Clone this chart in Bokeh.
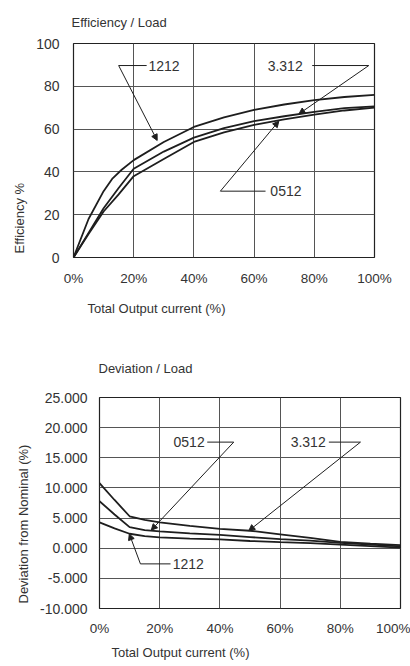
from bokeh.plotting import figure
from bokeh.models import Range1d, FixedTicker, Label, Arrow, NormalHead, Title
from bokeh.layouts import column
from bokeh.embed import file_html
from bokeh.resources import INLINE

# ---------------- data ----------------
# Efficiency / Load
eff_x_1212 = [0, 5, 10, 13, 16, 20, 30, 40, 50, 60, 70, 80, 90, 100]
eff_1212 = [0, 18, 31, 37, 41, 45.5, 54, 61, 65.5, 69, 71.5, 73.5, 75, 76]
eff_x = [0, 5, 10, 15, 20, 30, 40, 50, 60, 70, 80, 90, 100]
eff_3312 = [0, 11.5, 23, 32.5, 41.5, 49.5, 56, 60.5, 63.7, 66, 68, 69.8, 70.6]
eff_0512 = [0, 11, 21.5, 29.5, 38, 46, 54, 58.5, 62, 64.5, 66.8, 68.7, 70]

# Deviation / Load
dev_x = [0, 5, 10, 15, 20, 30, 40, 50, 60, 70, 80, 90, 100]
dev_3312 = [10.8, 8.0, 5.3, 4.7, 4.3, 3.7, 3.2, 2.9, 2.3, 1.7, 1.05, 0.75, 0.5]
dev_0512 = [7.8, 5.6, 3.5, 3.0, 2.8, 2.45, 2.2, 1.85, 1.5, 1.25, 0.9, 0.6, 0.3]
dev_1212 = [4.3, 3.3, 2.4, 2.0, 1.8, 1.6, 1.45, 1.2, 1.0, 0.85, 0.6, 0.35, 0.1]

x_ticks = [0, 20, 40, 60, 80, 100]
x_tick_labels = ["0%", "20%", "40%", "60%", "80%", "100%"]
eff_ticks = [0, 20, 40, 60, 80, 100]
eff_tick_labels = ["0", "20", "40", "60", "80", "100"]
dev_ticks = [-10, -5, 0, 5, 10, 15, 20, 25]
dev_tick_labels = ["-10.000", "-5.000", "0.000", "5.000", "10.000", "15.000", "20.000", "25.000"]

# callouts: label, text x, y, leader x0, leader x1, elbow x, tip x, tip y
eff_callouts = [
    ("1212", 24.9, 89.7, 15.0, 24.3, 15.0, 27.8, 54.7),
    ("3.312", 64.5, 89.7, 79.3, 98.1, 98.1, 74.9, 67.1),
    ("0512", 65.4, 31.0, 48.8, 63.8, 48.8, 68.2, 63.7),
]
dev_callouts = [
    ("0512", 24.6, 17.6, 35.8, 44.6, 44.6, 17.2, 3.0),
    ("3.312", 63.5, 17.6, 76.2, 86.7, 86.7, 49.6, 2.9),
    ("1212", 24.3, -2.6, 13.6, 23.6, 13.6, 9.9, 2.37),
]

FONT = "Liberation Sans"
TXT = "#333333"
LINE = "#1e1e1e"


def style(p, xt, xl, yt, yl, xstand, ystand):
    p.xaxis.ticker = FixedTicker(ticks=xt)
    p.yaxis.ticker = FixedTicker(ticks=yt)
    p.xaxis.major_label_overrides = {t: l for t, l in zip(xt, xl)}
    p.yaxis.major_label_overrides = {t: l for t, l in zip(yt, yl)}
    for ax in (p.xaxis[0], p.yaxis[0]):
        ax.axis_line_color = None
        ax.major_tick_line_color = None
        ax.minor_tick_line_color = None
        ax.major_tick_in = 0
        ax.major_tick_out = 0
        ax.major_label_text_font = FONT
        ax.major_label_text_color = TXT
        ax.major_label_text_font_size = "14px"
    p.xaxis.major_label_standoff = xstand
    p.yaxis.major_label_standoff = ystand
    p.xaxis.major_label_text_font_size = "13.5px"
    p.xgrid.grid_line_color = "#555555"
    p.ygrid.grid_line_color = "#555555"
    p.xgrid.grid_line_width = 1
    p.ygrid.grid_line_width = 1
    p.outline_line_color = "#222222"
    p.outline_line_width = 1.2
    p.background_fill_color = "white"
    p.border_fill_color = "white"


def callouts(p, items):
    for lab, tx, ty, lx0, lx1, ex, ax_, ay in items:
        p.line([lx0, lx1], [ty, ty], line_color=LINE, line_width=1)
        p.add_layout(Arrow(end=NormalHead(size=6, fill_color=LINE, line_color=LINE),
                           x_start=ex, y_start=ty, x_end=ax_, y_end=ay,
                           line_color=LINE, line_width=1))
        p.add_layout(Label(x=tx, y=ty, text=lab, text_font=FONT, text_font_size="14px",
                           text_color=TXT, text_align="left", text_baseline="middle"))


def ttl(p, s, side, offset, standoff, valign="bottom"):
    p.add_layout(Title(text=s, align="left", offset=offset, standoff=standoff,
                       vertical_align=valign,
                       text_font=FONT, text_font_size="13px", text_color=TXT,
                       text_font_style="normal"), side)


# ---------------- top chart ----------------
p1 = figure(width=410, height=325, output_backend="svg", toolbar_location=None,
            x_range=Range1d(0, 100), y_range=Range1d(0, 100), frame_align=False,
            min_border_left=73, min_border_right=36, min_border_top=43, min_border_bottom=68)
style(p1, x_ticks, x_tick_labels, eff_ticks, eff_tick_labels, 13, 14)
p1.line(eff_x_1212, eff_1212, line_color=LINE, line_width=1.8)
p1.line(eff_x, eff_3312, line_color=LINE, line_width=1.8)
p1.line(eff_x, eff_0512, line_color=LINE, line_width=1.8)
callouts(p1, eff_callouts)
ttl(p1, "Efficiency / Load", "above", -2, 23, "top")
ttl(p1, "Total Output current (%)", "below", 14, 20)
ttl(p1, "Efficiency %", "left", 4, 13)

# ---------------- bottom chart ----------------
p2 = figure(width=410, height=339, output_backend="svg", toolbar_location=None,
            x_range=Range1d(0, 100), y_range=Range1d(-10, 25), frame_align=False,
            min_border_left=99, min_border_right=10, min_border_top=72, min_border_bottom=51)
style(p2, x_ticks, x_tick_labels, dev_ticks, dev_tick_labels, 12, 12)
p2.line(dev_x, dev_3312, line_color=LINE, line_width=1.8)
p2.line(dev_x, dev_0512, line_color=LINE, line_width=1.8)
p2.line(dev_x, dev_1212, line_color=LINE, line_width=1.8)
callouts(p2, dev_callouts)
ttl(p2, "Deviation / Load", "above", -1, 43)
ttl(p2, "Total Output current (%)", "below", 12, 9)
ttl(p2, "Deviation from Nominal (%)", "left", 5, 14)

layout = column(p1, p2, spacing=0)
open("out.html", "w").write(file_html(layout, INLINE))
